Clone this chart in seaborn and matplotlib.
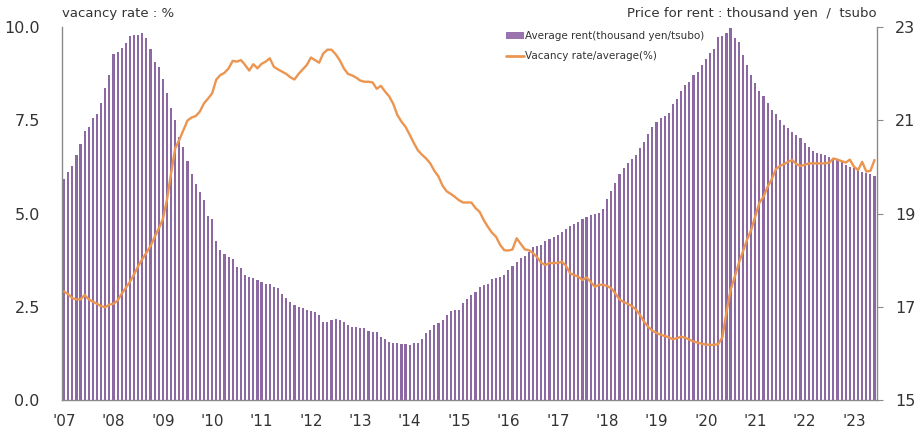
import numpy as np
import pandas as pd
import matplotlib
matplotlib.use("Agg")
import matplotlib.pyplot as plt
import seaborn as sns
from matplotlib.patches import Patch
from matplotlib.lines import Line2D

# monthly data, Jan 2007 - Jun 2023
year_labels = ["'07", "'08", "'09", "'10", "'11", "'12", "'13", "'14", "'15",
               "'16", "'17", "'18", "'19", "'20", "'21", "'22", "'23"]

# average rent (thousand yen / tsubo), right axis
rent_2007 = [19.74, 19.90, 20.03, 20.26, 20.49, 20.77, 20.86, 21.06, 21.13, 21.37, 21.69, 21.97]
rent_2008 = [22.42, 22.47, 22.55, 22.67, 22.81, 22.83, 22.83, 22.87, 22.78, 22.53, 22.26, 22.15]
rent_2009 = [21.90, 21.58, 21.26, 21.01, 20.64, 20.44, 20.14, 19.86, 19.64, 19.47, 19.29, 18.95]
rent_2010 = [18.88, 18.42, 18.23, 18.13, 18.06, 18.02, 17.86, 17.83, 17.68, 17.63, 17.61, 17.58]
rent_2011 = [17.53, 17.50, 17.48, 17.43, 17.40, 17.27, 17.20, 17.11, 17.04, 17.00, 16.97, 16.93]
rent_2012 = [16.92, 16.89, 16.82, 16.68, 16.68, 16.72, 16.73, 16.72, 16.67, 16.61, 16.57, 16.56]
rent_2013 = [16.55, 16.54, 16.49, 16.47, 16.46, 16.36, 16.30, 16.25, 16.22, 16.22, 16.20, 16.20]
rent_2014 = [16.18, 16.23, 16.23, 16.32, 16.44, 16.50, 16.61, 16.66, 16.72, 16.82, 16.91, 16.93]
rent_2015 = [16.93, 17.09, 17.16, 17.25, 17.32, 17.43, 17.47, 17.50, 17.59, 17.61, 17.65, 17.68]
rent_2016 = [17.79, 17.88, 17.97, 18.05, 18.10, 18.18, 18.28, 18.30, 18.33, 18.42, 18.45, 18.49]
rent_2017 = [18.54, 18.61, 18.68, 18.73, 18.78, 18.83, 18.88, 18.93, 18.97, 18.99, 19.02, 19.11]
rent_2018 = [19.31, 19.49, 19.65, 19.86, 19.97, 20.08, 20.17, 20.26, 20.40, 20.54, 20.71, 20.85]
rent_2019 = [20.97, 21.06, 21.09, 21.17, 21.35, 21.47, 21.64, 21.76, 21.83, 21.97, 22.05, 22.19]
rent_2020 = [22.33, 22.44, 22.53, 22.80, 22.81, 22.87, 22.98, 22.78, 22.69, 22.40, 22.19, 21.97]
rent_2021 = [21.81, 21.64, 21.52, 21.38, 21.22, 21.14, 21.01, 20.90, 20.83, 20.76, 20.69, 20.62]
rent_2022 = [20.51, 20.44, 20.34, 20.31, 20.29, 20.26, 20.22, 20.19, 20.15, 20.11, 20.04, 20.01]
rent_2023 = [19.97, 19.95, 19.90, 19.88, 19.85, 19.81]

# vacancy rate (%), left axis
vac_2007 = [2.91, 2.84, 2.73, 2.70, 2.70, 2.82, 2.70, 2.64, 2.58, 2.52, 2.49, 2.56]
vac_2008 = [2.58, 2.67, 2.85, 3.01, 3.17, 3.37, 3.59, 3.78, 3.95, 4.13, 4.37, 4.60]
vac_2009 = [4.85, 5.37, 6.08, 6.75, 6.98, 7.24, 7.50, 7.58, 7.62, 7.74, 7.96, 8.09]
vac_2010 = [8.23, 8.60, 8.72, 8.78, 8.90, 9.10, 9.08, 9.12, 8.99, 8.84, 9.01, 8.90]
vac_2011 = [9.02, 9.08, 9.17, 8.94, 8.87, 8.81, 8.75, 8.66, 8.60, 8.75, 8.87, 8.99]
vac_2012 = [9.19, 9.12, 9.05, 9.30, 9.40, 9.40, 9.28, 9.12, 8.90, 8.75, 8.71, 8.65]
vac_2013 = [8.57, 8.54, 8.54, 8.52, 8.35, 8.43, 8.28, 8.15, 7.95, 7.65, 7.47, 7.33]
vac_2014 = [7.12, 6.90, 6.70, 6.58, 6.48, 6.35, 6.15, 6.00, 5.75, 5.60, 5.53, 5.45]
vac_2015 = [5.36, 5.30, 5.30, 5.30, 5.15, 5.05, 4.83, 4.65, 4.49, 4.38, 4.16, 4.02]
vac_2016 = [4.01, 4.04, 4.34, 4.19, 4.04, 4.02, 3.94, 3.83, 3.68, 3.62, 3.68, 3.67]
vac_2017 = [3.68, 3.71, 3.60, 3.40, 3.35, 3.31, 3.22, 3.29, 3.17, 3.04, 3.09, 3.09]
vac_2018 = [3.06, 3.00, 2.86, 2.70, 2.63, 2.58, 2.52, 2.43, 2.28, 2.10, 1.96, 1.86]
vac_2019 = [1.80, 1.75, 1.72, 1.68, 1.63, 1.66, 1.70, 1.67, 1.62, 1.57, 1.54, 1.51]
vac_2020 = [1.49, 1.48, 1.48, 1.50, 1.68, 2.35, 2.95, 3.30, 3.67, 3.98, 4.30, 4.56]
vac_2021 = [4.92, 5.29, 5.45, 5.72, 5.92, 6.19, 6.28, 6.33, 6.39, 6.44, 6.33, 6.28]
vac_2022 = [6.31, 6.35, 6.35, 6.35, 6.35, 6.35, 6.37, 6.48, 6.45, 6.41, 6.37, 6.45]
vac_2023 = [6.26, 6.17, 6.39, 6.13, 6.15, 6.44]

rent = (rent_2007 + rent_2008 + rent_2009 + rent_2010 + rent_2011 + rent_2012
        + rent_2013 + rent_2014 + rent_2015 + rent_2016 + rent_2017 + rent_2018
        + rent_2019 + rent_2020 + rent_2021 + rent_2022 + rent_2023)
vacancy = (vac_2007 + vac_2008 + vac_2009 + vac_2010 + vac_2011 + vac_2012
           + vac_2013 + vac_2014 + vac_2015 + vac_2016 + vac_2017 + vac_2018
           + vac_2019 + vac_2020 + vac_2021 + vac_2022 + vac_2023)

df = pd.DataFrame({"month": np.arange(len(rent)), "rent": rent, "vacancy": vacancy})

BAR = "#8d69a3"
BAR_LEG = "#9a74ae"
LINE = "#eb9550"
TXT = "#333333"
SPINE = "#8a8a8a"

sns.set_theme(style="white")
plt.rcParams["font.family"] = ["DejaVu Sans"]

fig = plt.figure(figsize=(9.19, 4.33), dpi=100)
ax = fig.add_axes([0.0675, 0.0762, 0.8868, 0.8607])
ax2 = ax.twinx()  # line axis, drawn on top of the bars

# bars on the rent scale (right)
sns.barplot(data=df, x="month", y="rent", native_scale=True, color=BAR,
            saturation=1, width=0.52, linewidth=0, ax=ax)

# line on the vacancy scale (left)
sns.lineplot(data=df, x="month", y="vacancy", color=LINE, linewidth=1.7, ax=ax2)

ax.set_ylim(15, 23)
ax.yaxis.tick_right()
ax.yaxis.set_label_position("right")
ax.set_yticks([15, 17, 19, 21, 23])
ax.tick_params(axis="y", left=False, right=True, labelleft=False, labelright=True,
               length=4, width=0.8, color=SPINE, pad=9, labelsize=11.5, labelcolor=TXT)
ax.set_xticks(range(0, len(rent), 12))
ax.set_xticklabels(year_labels)
ax.tick_params(axis="x", length=0, pad=10, labelsize=11, labelcolor=TXT)
ax.set_xlabel("")
ax.set_ylabel("")

ax2.set_ylim(0, 10)
ax2.yaxis.tick_left()
ax2.yaxis.set_label_position("left")
ax2.set_yticks([0, 2.5, 5, 7.5, 10])
ax2.set_yticklabels(["0.0", "2.5", "5.0", "7.5", "10.0"])
ax2.tick_params(axis="y", left=True, right=False, labelleft=True, labelright=False,
                length=0, pad=16, labelsize=11.5, labelcolor=TXT)
ax2.set_ylabel("")
ax2.set_xlabel("")
ax.set_xlim(-0.5, len(rent) - 0.4)

for a in (ax, ax2):
    for s in a.spines.values():
        s.set_visible(False)
ax.spines["right"].set_visible(True)
ax.spines["bottom"].set_visible(True)
ax2.spines["left"].set_visible(True)
for s in (ax.spines["right"], ax.spines["bottom"], ax2.spines["left"]):
    s.set_color(SPINE)
    s.set_linewidth(1.0)

handles = [Patch(facecolor=BAR_LEG, edgecolor="none"),
           Line2D([], [], color=LINE, lw=2)]
labels = ["Average rent(thousand yen/tsubo)", "Vacancy rate/average(%)"]
ax2.legend(handles, labels, loc="upper left", bbox_to_anchor=(0.545, 0.99),
           frameon=False, fontsize=7.5, handlelength=1.7, handleheight=0.6,
           labelspacing=1.0, handletextpad=0.15, borderaxespad=0, borderpad=0,
           labelcolor=TXT)

fig.text(62 / 919, 1 - 13 / 433, "vacancy rate : %", ha="left", va="center",
         fontsize=9.5, color=TXT)
fig.text(877 / 919, 1 - 13 / 433, "Price for rent : thousand yen  /  tsubo",
         ha="right", va="center", fontsize=9.5, color=TXT)

fig.savefig("out.png", dpi=100)
